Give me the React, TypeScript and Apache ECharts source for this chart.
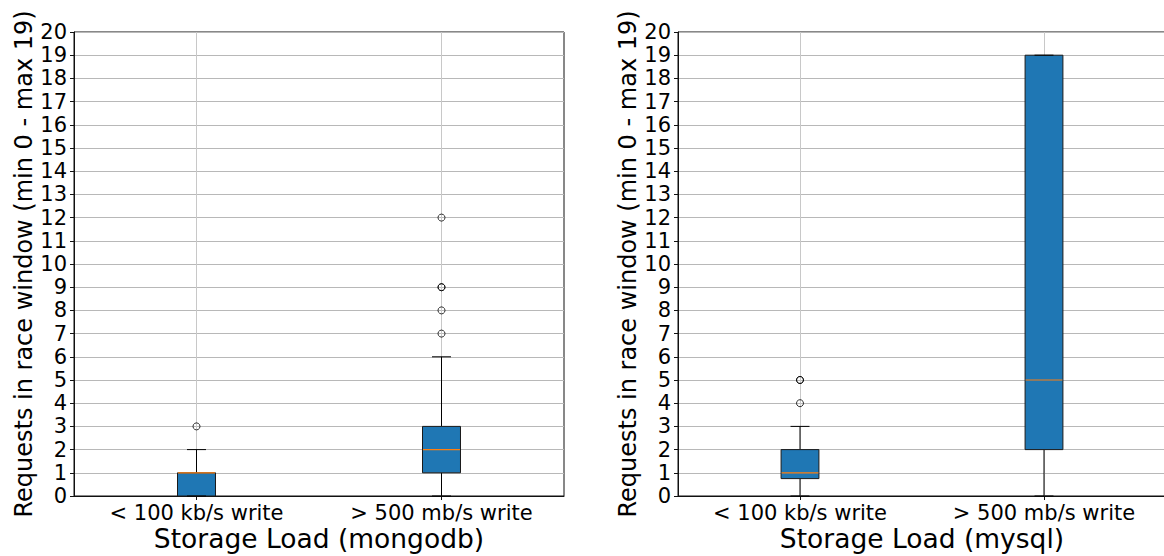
import React, { useEffect, useRef } from "react";
import * as echarts from "echarts";

const categories = ["< 100 kb/s write", "> 500 mb/s write"];
const yTicks = { min: 0, max: 20, interval: 1 };

// [low whisker, Q1, median, Q3, high whisker]
const mongoStats = [
  [0, 0, 1, 1, 2],
  [0, 1, 2, 3, 6],
];
const mongoOutliers = [[3], [7, 8, 9, 9, 12]];

const mysqlStats = [
  [0, 0.75, 1, 2, 3],
  [0, 2, 5, 19, 19],
];
const mysqlOutliers = [[4, 5, 5], []];

const yName = "Requests in race window (min 0 - max 19)";
const xNames = ["Storage Load (mongodb)", "Storage Load (mysql)"];

const FONT = "DejaVu Sans";

const renderBox = (params: any, api: any) => {
  const x = api.value(0);
  const low = api.value(1);
  const q1 = api.value(2);
  const med = api.value(3);
  const q3 = api.value(4);
  const high = api.value(5);
  const band = api.size([1, 0])[0];
  const bw = band * 0.155;
  const cw = bw / 2;
  const pL = api.coord([x, low]);
  const p1 = api.coord([x, q1]);
  const pM = api.coord([x, med]);
  const p3 = api.coord([x, q3]);
  const pH = api.coord([x, high]);
  const cx = pL[0];
  const ls = { stroke: "#000", lineWidth: 1 };
  return {
    type: "group",
    children: [
      { type: "line", shape: { x1: cx, y1: pL[1], x2: cx, y2: p1[1] }, style: ls },
      { type: "line", shape: { x1: cx, y1: p3[1], x2: cx, y2: pH[1] }, style: ls },
      {
        type: "rect",
        shape: { x: cx - bw / 2, y: p3[1], width: bw, height: p1[1] - p3[1] },
        style: { fill: "#1f77b4", stroke: "#1a1a1a", lineWidth: 1 },
      },
      { type: "line", shape: { x1: cx - bw / 2 + 0.5, y1: pM[1], x2: cx + bw / 2 - 0.5, y2: pM[1] }, style: { stroke: "#ff7f0e", lineWidth: 1.2 } },
      { type: "line", shape: { x1: cx - cw / 2, y1: pL[1], x2: cx + cw / 2, y2: pL[1] }, style: ls },
      { type: "line", shape: { x1: cx - cw / 2, y1: pH[1], x2: cx + cw / 2, y2: pH[1] }, style: ls },
    ],
  };
};

export default function App() {
  const ref = useRef<HTMLDivElement>(null);
  useEffect(() => {
    if (!ref.current) return;
    const chart = echarts.init(ref.current, null, { renderer: "svg" });
    const grids = [
      { left: 74, top: 32, width: 490, height: 464 },
      { left: 678, top: 32, width: 488, height: 464 },
    ].map((g) => ({
      ...g,
      show: true,
      borderColor: "#111",
      borderWidth: 1,
      backgroundColor: "transparent",
      containLabel: false,
      outerBoundsMode: "none",
    }));
    const xAxes = [0, 1].map((i) => ({
      type: "category",
      gridIndex: i,
      data: categories,
      boundaryGap: true,
      axisLine: { show: true, lineStyle: { color: "#111", width: 1 } },
      axisTick: { show: true, alignWithLabel: true, length: 4, lineStyle: { color: "#111" } },
      axisLabel: { fontSize: 21, lineHeight: 20, color: "#000", fontFamily: FONT, margin: 7, interval: 0 },
      splitLine: { show: true, alignWithLabel: true, lineStyle: { color: "#c8c8c8", width: 1 } },
      name: xNames[i],
      nameLocation: "middle",
      nameMoveOverlap: false,
      nameGap: 30,
      nameTextStyle: { fontSize: 26.5, lineHeight: 25, color: "#000", fontFamily: FONT },
    }));
    const yAxes = [0, 1].map((i) => ({
      type: "value",
      gridIndex: i,
      min: yTicks.min,
      max: yTicks.max,
      interval: yTicks.interval,
      axisLine: { show: true, lineStyle: { color: "#111", width: 1 } },
      axisTick: { show: true, length: 4, lineStyle: { color: "#111" } },
      axisLabel: { fontSize: 21, color: "#000", fontFamily: FONT, margin: 7 },
      splitLine: { show: true, lineStyle: { color: "#b8b8b8", width: 1 } },
      name: yName,
      nameLocation: "middle",
      nameRotate: 90,
      nameGap: 38,
      nameTextStyle: { fontSize: 24, color: "#000", fontFamily: FONT },
    }));
    const statsList = [mongoStats, mysqlStats];
    const outList = [mongoOutliers, mysqlOutliers];
    const series: any[] = [];
    [0, 1].forEach((i) => {
      series.push({
        type: "custom",
        xAxisIndex: i,
        yAxisIndex: i,
        renderItem: renderBox,
        encode: { x: 0, y: [1, 2, 3, 4, 5] },
        data: statsList[i].map((s, k) => [k, ...s]),
        z: 2,
        clip: false,
      });
      series.push({
        type: "scatter",
        xAxisIndex: i,
        yAxisIndex: i,
        symbol: "circle",
        symbolSize: 7,
        itemStyle: { color: "rgba(0,0,0,0)", borderColor: "#000", borderWidth: 1 },
        data: outList[i].flatMap((vals, k) => vals.map((v) => [k, v])),
        z: 3,
      });
    });
    chart.setOption({
      animation: false,
      backgroundColor: "#fff",
      grid: grids,
      xAxis: xAxes,
      yAxis: yAxes,
      series,
    });
    return () => chart.dispose();
  }, []);
  return (
    <div
      ref={ref}
      style={{ position: "absolute", left: 0, top: 0, width: 1164, height: 556 }}
    />
  );
}
